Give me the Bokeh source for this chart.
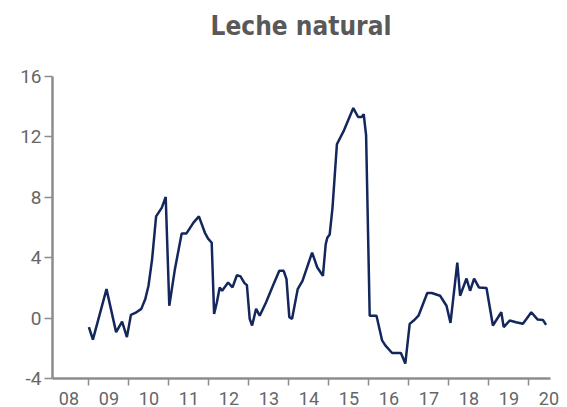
from bokeh.plotting import figure
from bokeh.models import FixedTicker, Range1d, Div
from bokeh.layouts import column
from bokeh.embed import file_html
from bokeh.resources import INLINE

# decimal year of each reading
dates = [2009.00, 2009.10, 2009.44, 2009.68, 2009.83, 2009.95, 2010.05, 2010.16, 2010.31, 2010.41,
         2010.49, 2010.58, 2010.68, 2010.82, 2010.92, 2011.01, 2011.15, 2011.32, 2011.44, 2011.61,
         2011.75, 2011.90, 2011.98, 2012.07, 2012.13, 2012.20, 2012.27, 2012.33, 2012.48, 2012.59,
         2012.70, 2012.79, 2012.89, 2012.95, 2013.02, 2013.08, 2013.18, 2013.27, 2013.43, 2013.60,
         2013.76, 2013.87, 2013.94, 2014.01, 2014.08, 2014.22, 2014.34, 2014.58, 2014.71, 2014.85,
         2014.92, 2014.96, 2015.02, 2015.09, 2015.20, 2015.38, 2015.61, 2015.73, 2015.82, 2015.87,
         2015.93, 2016.02, 2016.19, 2016.33, 2016.41, 2016.58, 2016.80, 2016.91, 2017.02, 2017.12,
         2017.24, 2017.37, 2017.46, 2017.57, 2017.78, 2017.94, 2018.04, 2018.21, 2018.28, 2018.44,
         2018.53, 2018.63, 2018.75, 2018.94, 2019.10, 2019.31, 2019.37, 2019.52, 2019.68, 2019.85,
         2019.97, 2020.06, 2020.22, 2020.35, 2020.43]
leche = [-0.60, -1.43, 1.92, -0.93, -0.23, -1.26, 0.21, 0.34, 0.61, 1.26,
         2.14, 3.89, 6.74, 7.30, 8.02, 0.82, 3.24, 5.61, 5.61, 6.31,
         6.74, 5.65, 5.26, 4.99, 0.28, 1.05, 2.03, 1.81, 2.36, 2.03,
         2.84, 2.76, 2.32, 2.18, -0.05, -0.49, 0.61, 0.16, 1.05, 2.14,
         3.13, 3.13, 2.58, 0.06, -0.05, 1.92, 2.47, 4.34, 3.35, 2.80,
         4.88, 5.32, 5.54, 7.30, 11.51, 12.45, 13.91, 13.32, 13.32, 13.50,
         12.12, 0.16, 0.16, -1.48, -1.81, -2.31, -2.31, -3.01, -0.38, -0.16,
         0.16, 1.05, 1.66, 1.66, 1.48, 0.82, -0.32, 3.68, 1.48, 2.62,
         1.81, 2.62, 2.03, 1.99, -0.49, 0.39, -0.60, -0.16, -0.27, -0.38,
         0.06, 0.39, -0.10, -0.12, -0.45]

title_text = "Leche natural"
year_labels = ["08", "09", "10", "11", "12", "13", "14", "15", "16", "17", "18", "19", "20"]
year_starts = [2009, 2010, 2011, 2012, 2013, 2014, 2015, 2016, 2017, 2018, 2019, 2020]
y_ticks = [-4, 0, 4, 8, 12, 16]

TITLE_FONT = "DejaVu Sans Condensed"
FONT = "Roboto"
GRAY_AXIS = "#8c8c8c"
GRAY_TEXT = "#666666"

title_div = Div(
    width=567, height=40, margin=0,
    text=('<div style="width:567px;box-sizing:border-box;padding-left:35px;padding-top:13px;'
          'text-align:center;font-family:\'%s\';font-size:26px;line-height:26px;'
          'font-weight:bold;color:#595959;">%s</div>') % (TITLE_FONT, title_text))

p = figure(width=567, height=367, output_backend="svg", toolbar_location=None, margin=0,
           x_range=Range1d(2008.09, 2020.54), y_range=Range1d(-4, 16),
           min_border_left=52, min_border_right=17, min_border_top=36, min_border_bottom=26)

p.outline_line_color = None
p.xgrid.visible = False
p.ygrid.visible = False
p.background_fill_color = "white"
p.border_fill_color = "white"

p.line(dates, leche, line_color="#14275c", line_width=2.5)

label_pos = [2008.5 + i for i in range(len(year_labels))]
xa = p.xaxis[0]
xa.ticker = FixedTicker(ticks=label_pos, minor_ticks=year_starts)
xa.major_label_overrides = {pos: lab for pos, lab in zip(label_pos, year_labels)}
xa.major_tick_out = 0
xa.major_tick_in = 0
xa.minor_tick_out = 7
xa.minor_tick_in = 0
xa.minor_tick_line_color = GRAY_AXIS
xa.minor_tick_line_width = 1.5
xa.axis_line_color = GRAY_AXIS
xa.axis_line_width = 2.5
xa.major_label_text_font = FONT
xa.major_label_text_font_size = "18px"
xa.major_label_text_color = GRAY_TEXT
xa.major_label_standoff = 6

ya = p.yaxis[0]
ya.ticker = FixedTicker(ticks=y_ticks, minor_ticks=[])
ya.major_label_overrides = {t: str(t) for t in y_ticks}
ya.major_tick_out = 8
ya.major_tick_in = 0
ya.major_tick_line_color = GRAY_AXIS
ya.major_tick_line_width = 1.5
ya.axis_line_color = GRAY_AXIS
ya.axis_line_width = 2.5
ya.major_label_text_font = FONT
ya.major_label_text_font_size = "19px"
ya.major_label_text_color = GRAY_TEXT
ya.major_label_standoff = 3

layout = column(title_div, p, spacing=0, margin=0)
open("out.html", "w").write(file_html(layout, INLINE))
